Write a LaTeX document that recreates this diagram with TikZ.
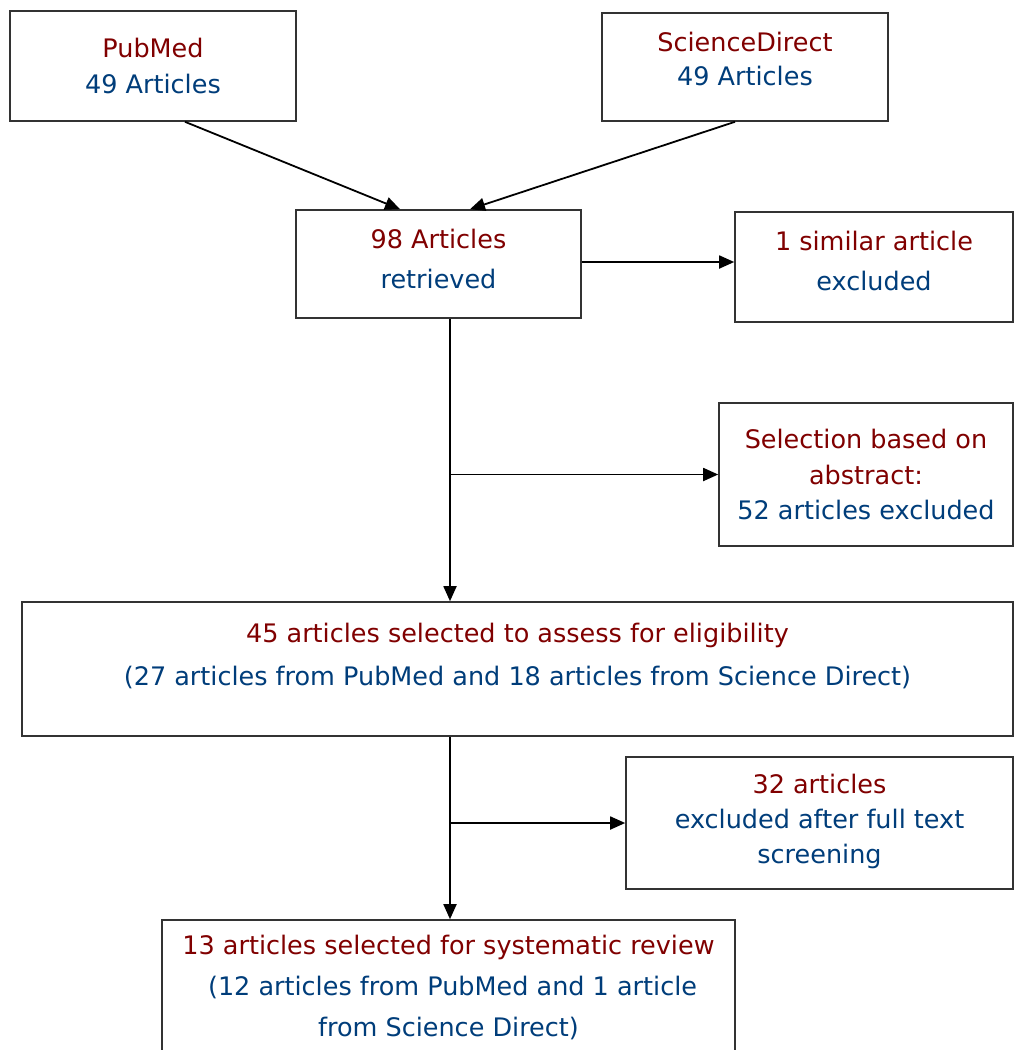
\documentclass[tikz,border=0pt]{standalone}
\usepackage{fontspec}
\setmainfont{DejaVu Sans}
\usetikzlibrary{arrows.meta}
\definecolor{hdred}{RGB}{128,0,0}
\definecolor{txtblue}{RGB}{0,61,122}
\tikzstyle{box} = [rectangle,draw=black!80,line width=1.6pt,inner sep=0pt]
\tikzstyle{txt} = [align=center,font=\fontsize{25.5}{36}\selectfont]
\tikzstyle{arr} = [-{Triangle[length=15pt,width=13pt]},line width=1.8pt]

\begin{document}
\begin{tikzpicture}[x=1pt,y=-1pt]
    \useasboundingbox (0,0) rectangle (1015,1050);
    \clip (0,0) rectangle (1015,1050);

    % Sources
    \node[box,minimum width=286,minimum height=110] (pub) at (153,66) {};
    \node[txt] (pubt) at (pub.center) {\textcolor{hdred}{PubMed}\\\textcolor{txtblue}{49 Articles}};
    \node[box,minimum width=286,minimum height=108] (sd) at (745,67) {};
    \node[txt,font=\fontsize{25.5}{34}\selectfont] (sdt) at ([yshift=8]sd.center) {\textcolor{hdred}{ScienceDirect}\\\textcolor{txtblue}{49 Articles}};

    % Retrieved
    \node[box,minimum width=285,minimum height=108] (ret) at (438.5,264) {};
    \node[txt,font=\fontsize{25.5}{40}\selectfont] (rett) at ([yshift=5]ret.center) {\textcolor{hdred}{98 Articles}\\\textcolor{txtblue}{retrieved}};
    \node[box,minimum width=278,minimum height=110] (sim) at (874,267) {};
    \node[txt,font=\fontsize{25.5}{40}\selectfont] (simt) at ([yshift=6]sim.center) {\textcolor{hdred}{1 similar article}\\\textcolor{txtblue}{excluded}};

    % Abstract screening
    \node[box,minimum width=294,minimum height=143] (abs) at (866,474.5) {};
    \node[txt,font=\fontsize{25.5}{35.5}\selectfont] (abst) at (abs.center) {\textcolor{hdred}{Selection based on}\\\textcolor{hdred}{abstract:}\\\textcolor{txtblue}{52 articles excluded}};

    % Eligibility
    \node[box,minimum width=991,minimum height=134] (elig) at (517.5,669) {};
    \node[txt,font=\fontsize{25.5}{43}\selectfont] (eligt) at ([yshift=13]elig.center) {\textcolor{hdred}{45 articles selected to assess for eligibility}\\\textcolor{txtblue}{(27 articles from PubMed and 18 articles from Science Direct)}};
    \node[box,minimum width=387,minimum height=132] (full) at (819.5,823) {};
    \node[txt,font=\fontsize{25.5}{35}\selectfont] (fullt) at ([yshift=2]full.center) {\textcolor{hdred}{32 articles}\\\textcolor{txtblue}{excluded after full text}\\\textcolor{txtblue}{screening}};

    % Included
    \node[box,minimum width=573,minimum height=140] (incl) at (448.5,990) {};
    \node[txt,font=\fontsize{25.5}{41}\selectfont] (inclt) at ([yshift=3]incl.center) {\textcolor{hdred}{13 articles selected for systematic review}\\\textcolor{txtblue}{\ (12 articles from PubMed and 1 article}\\\textcolor{txtblue}{from Science Direct)}};

    % arrows
    \draw[arr] ([xshift=32]pub.south) -- ([xshift=-38.5]ret.north);
    \draw[arr] ([xshift=-10]sd.south) -- ([xshift=31.5]ret.north);
    \draw[arr] ([yshift=2]ret.east) -- ([yshift=2]ret.east -| sim.west);
    \draw[arr] ([xshift=11.5]ret.south) -- ([xshift=11.5]ret.south |- elig.north);
    \coordinate (br1) at (450,474.5);
    \draw[arr] (br1) -- (br1 -| abs.west);
    \draw[arr] ([xshift=-67.5]elig.south) -- ([xshift=-67.5]elig.south |- incl.north);
    \coordinate (br2) at (450,823);
    \draw[arr] (br2) -- (br2 -| full.west);
\end{tikzpicture}
\end{document}
